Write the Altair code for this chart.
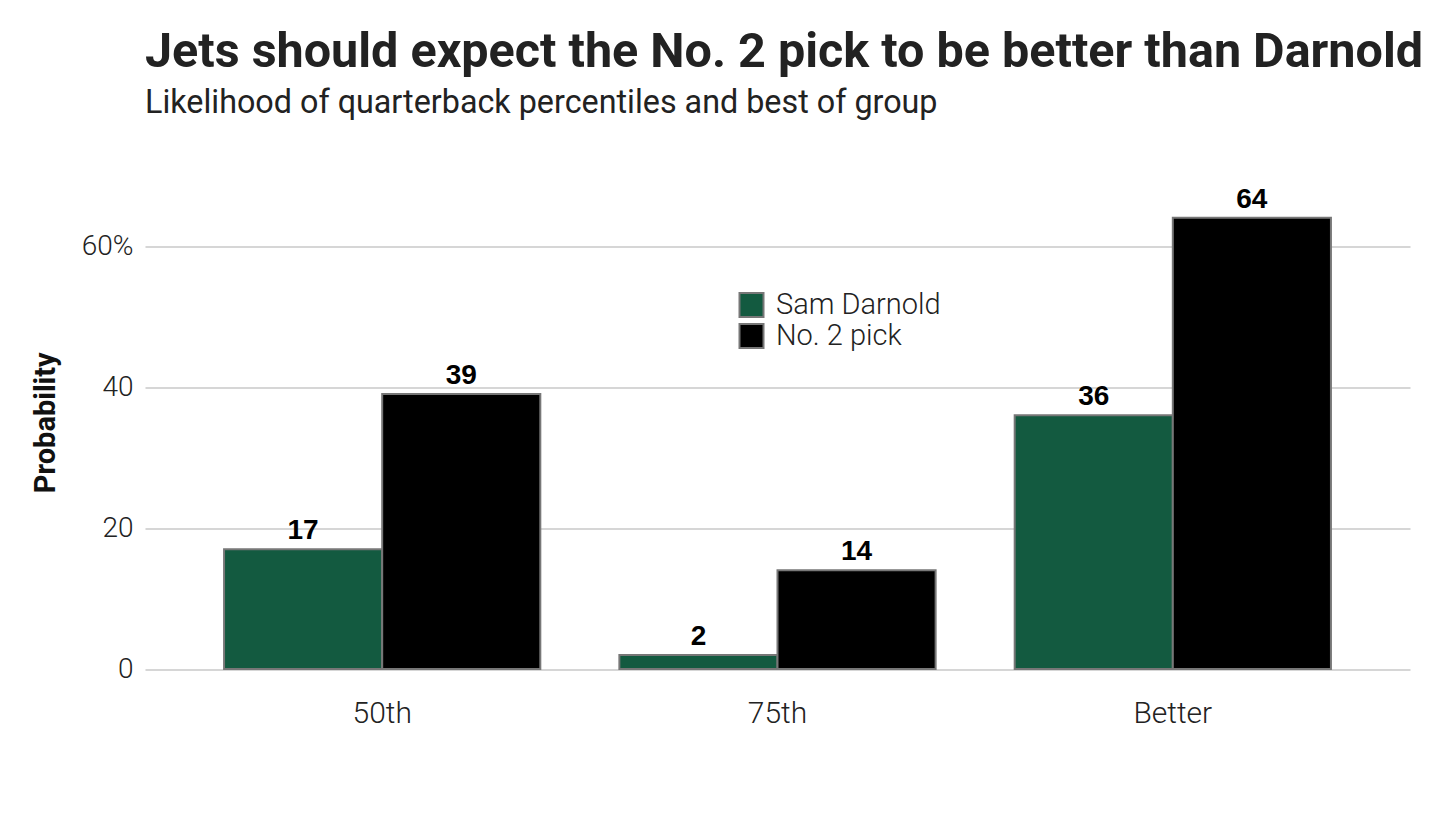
import altair as alt
import pandas as pd

categories = ["50th", "75th", "Better"]
players = ["Sam Darnold", "No. 2 pick"]
darnold = [17, 2, 36]
pick2 = [39, 14, 64]

rows = []
for c, d, p in zip(categories, darnold, pick2):
    rows.append({"cat": c, "player": players[0], "value": d})
    rows.append({"cat": c, "player": players[1], "value": p})
df = pd.DataFrame(rows)

x = alt.X("cat:N", sort=categories, title=None,
          scale=alt.Scale(paddingInner=0.2, paddingOuter=0.2),
          axis=alt.Axis(labelAngle=0, ticks=False, domain=False, labelPadding=29,
                        labelFont="Roboto", labelFontWeight=300, labelFontSize=30,
                        labelColor="#222"))
xo = alt.XOffset("player:N", sort=players)

base = alt.Chart(df).encode(x=x, xOffset=xo)

bars = base.mark_bar(stroke="#777777", strokeWidth=2).encode(
    y=alt.Y("value:Q", title="Probability",
            scale=alt.Scale(domain=[0, 70], nice=False),
            axis=alt.Axis(values=[0, 20, 40, 60],
                          labelExpr="datum.value == 60 ? '60%' : datum.label",
                          ticks=False, domain=False, grid=True,
                          gridColor="#c8c8c8", gridWidth=1.5,
                          labelFont="Roboto", labelFontWeight=300, labelFontSize=28,
                          labelColor="#222", labelPadding=12,
                          titleFont="Roboto", titleFontWeight="bold", titleFontSize=29,
                          titleColor="#111", titlePadding=21)),
    color=alt.Color("player:N", sort=players,
                    scale=alt.Scale(domain=players, range=["#135a40", "#000000"]),
                    legend=alt.Legend(title=None, orient="none", legendX=592, legendY=115,
                                      symbolType="square", symbolSize=576,
                                      symbolStrokeColor="#777777", symbolStrokeWidth=2,
                                      labelFont="Roboto", labelFontWeight=300,
                                      labelFontSize=29, labelColor="#222", labelLimit=400,
                                      rowPadding=-5, labelOffset=10)),
)

labels = base.mark_text(baseline="bottom", dy=-4, font="Liberation Sans",
                        fontWeight="bold", fontSize=28, color="#000").encode(
    y="value:Q",
    text="value:Q",
)

chart = alt.layer(bars, labels).properties(
    width=1265, height=493.5,
    autosize=alt.AutoSizeParams(type="none"),
    padding={"left": 137, "top": 167.5, "right": 30, "bottom": 130},
    title=alt.TitleParams(
        text="Jets should expect the No. 2 pick to be better than Darnold",
        subtitle="Likelihood of quarterback percentiles and best of group",
        anchor="start", frame="group", offset=55,
        font="Roboto", fontSize=48.5, fontWeight="bold", color="#222",
        subtitleFont="Roboto", subtitleFontSize=32.3, subtitleFontWeight="normal",
        subtitleColor="#222", subtitlePadding=10,
    ),
).configure_view(stroke=None)

chart.save("out.html", embed_options={"renderer": "svg", "actions": False})
